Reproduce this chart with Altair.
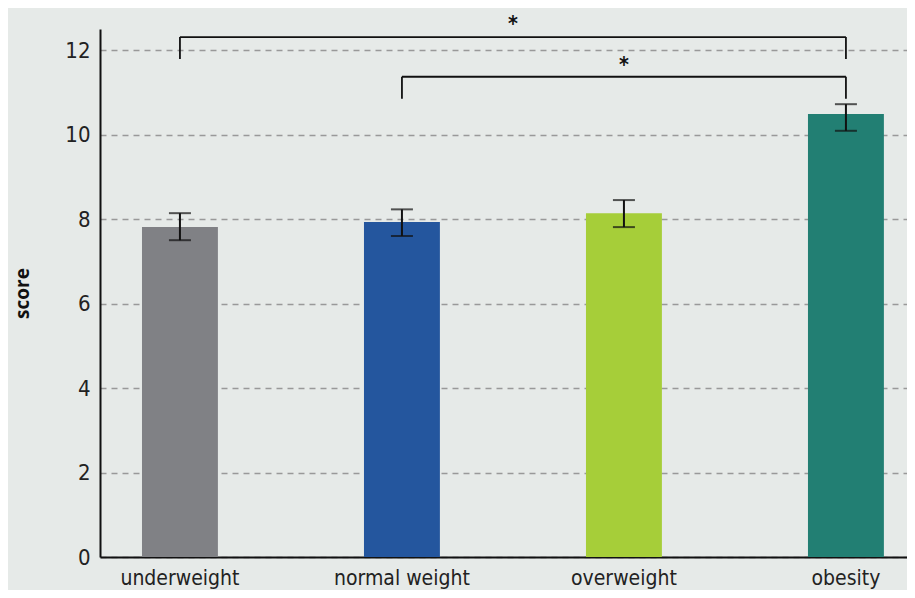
import altair as alt
import pandas as pd

categories = ["underweight", "normal weight", "overweight", "obesity"]
means = [7.81, 7.93, 8.14, 10.49]
err_low = [7.50, 7.60, 7.81, 10.09]
err_high = [8.14, 8.23, 8.45, 10.72]
colors = ["#808185", "#24569e", "#a6ce39", "#227f73"]

bracket_from = ["underweight", "normal weight"]
bracket_to = ["obesity", "obesity"]
bracket_top = [12.31, 11.37]
bracket_leg = [11.79, 10.85]
star_at = ["normal weight", "overweight"]
star_dx = [111, 0]
star_y = [12.45, 11.49]

FONT = "Liberation Sans Narrow, DejaVu Sans Condensed, sans-serif"

bars_df = pd.DataFrame({"cat": categories, "mean": means, "lo": err_low,
                        "hi": err_high, "color": colors})
br_df = pd.DataFrame({"a": bracket_from, "b": bracket_to, "top": bracket_top,
                      "leg": bracket_leg})
legs_df = pd.DataFrame({
    "cat": bracket_from + bracket_to,
    "top": bracket_top + bracket_top,
    "leg": bracket_leg + bracket_leg,
})
star_df = pd.DataFrame({"cat": star_at, "y": star_y, "dx": star_dx})

xscale = alt.Scale(domain=categories, paddingInner=0.658, paddingOuter=0.1466, align=0.645)
yscale = alt.Scale(domain=[0, 12.5], nice=False)

x_enc = alt.X("cat:N", scale=xscale, sort=categories, title=None,
              axis=alt.Axis(labelAngle=0, labelFont=FONT, labelFontSize=21,
                            labelColor="#222222", labelPadding=10, ticks=False,
                            domainColor="#111111", domainWidth=2, grid=False))
y_enc = alt.Y("mean:Q", scale=yscale, title="score",
              axis=alt.Axis(values=[0, 2, 4, 6, 8, 10, 12], labelFont=FONT,
                            labelFontSize=22, labelColor="#222222", labelPadding=10,
                            ticks=False, domainColor="#111111", domainWidth=2,
                            grid=True, gridColor="#999999", gridDash=[6, 5],
                            gridWidth=1.3, titleFont="Open Sans", titleFontSize=19,
                            titleFontWeight="bold", titleColor="#111111",
                            titleAngle=-90, titleX=-78, titleY=264,
                            titleAlign="center", titleBaseline="middle"))

bars = alt.Chart(bars_df).mark_bar().encode(
    x=x_enc, y=y_enc, color=alt.Color("color:N", scale=None))

err = alt.Chart(bars_df).mark_rule(color="#111111", strokeWidth=2).encode(
    x="cat:N", y="lo:Q", y2="hi:Q")
cap_lo = alt.Chart(bars_df).mark_tick(color="#111111", thickness=2, size=22,
                                      orient="horizontal").encode(x="cat:N", y="lo:Q")
cap_hi = alt.Chart(bars_df).mark_tick(color="#111111", thickness=2, size=22,
                                      orient="horizontal").encode(x="cat:N", y="hi:Q")

br_h = alt.Chart(br_df).mark_rule(color="#111111", strokeWidth=1.8).encode(
    x="a:N", x2="b:N", y="top:Q")
br_v = alt.Chart(legs_df).mark_rule(color="#111111", strokeWidth=1.8).encode(
    x="cat:N", y="leg:Q", y2="top:Q")

stars = [
    alt.Chart(star_df.iloc[[i]]).mark_text(text="*", font=FONT, fontSize=21,
                                           fontWeight="bold",
                                           color="#111111", baseline="alphabetic",
                                           dx=int(star_dx[i]), clip=False).encode(
        x="cat:N", y="y:Q")
    for i in range(len(star_at))
]

chart = alt.layer(bars, err, cap_lo, cap_hi, br_h, br_v, *stars).properties(
    width=807, height=528,
    background="#e6eae8",
    padding={"left": 92, "top": 21, "right": 0, "bottom": 33},
    autosize=alt.AutoSizeParams(type="none"),
).configure_view(stroke=None, fill="#e6eae8")

chart.save("out.html", embed_options={"renderer": "svg", "actions": False})
